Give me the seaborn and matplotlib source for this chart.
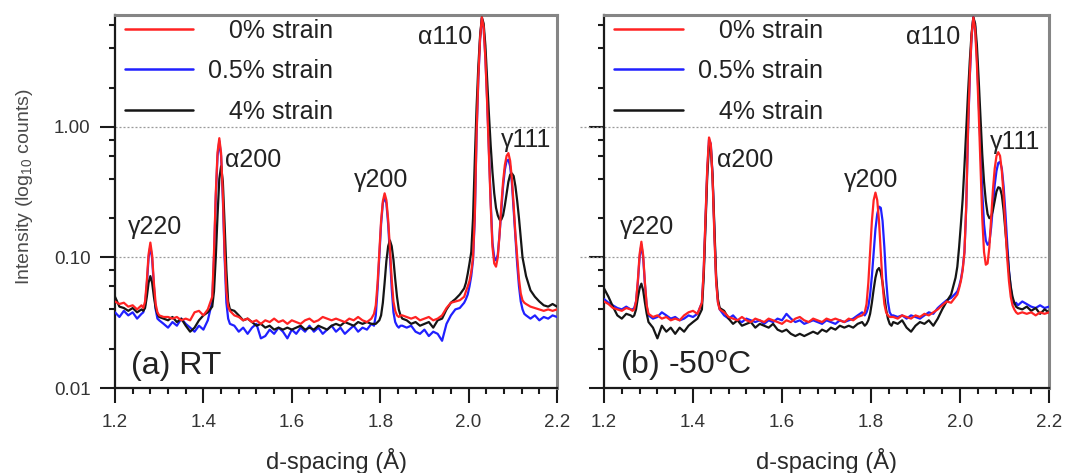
import numpy as np
import pandas as pd
import matplotlib
matplotlib.use("Agg")
import matplotlib.pyplot as plt
from matplotlib.lines import Line2D
from matplotlib.ticker import FixedLocator, MultipleLocator, FuncFormatter, NullFormatter, LogLocator
import seaborn as sns

# d-spacing sample positions (Å), shared by every diffraction pattern
D_SPACING = [
    1.200, 1.210, 1.220, 1.230, 1.240, 1.250, 1.260,
    1.264, 1.268, 1.272, 1.276, 1.280, 1.284, 1.288, 1.292, 1.296,
    1.300, 1.310, 1.320, 1.330, 1.340, 1.350, 1.360, 1.370, 1.380, 1.390, 1.400, 1.410,
    1.420, 1.424, 1.428, 1.432, 1.436, 1.440, 1.444, 1.448, 1.452, 1.456, 1.460,
    1.470, 1.480, 1.490, 1.500, 1.510, 1.520, 1.530, 1.540, 1.550, 1.560, 1.570, 1.580,
    1.590, 1.600, 1.610, 1.620, 1.630, 1.640, 1.650, 1.660, 1.670, 1.680, 1.690, 1.700,
    1.710, 1.720, 1.730, 1.740, 1.750, 1.760, 1.770, 1.780,
    1.786, 1.790, 1.794, 1.798, 1.802, 1.806, 1.810, 1.814, 1.818, 1.822, 1.826, 1.830,
    1.834, 1.838, 1.842, 1.846,
    1.850, 1.860, 1.870, 1.880, 1.890, 1.900, 1.910, 1.920, 1.930, 1.940, 1.950, 1.960,
    1.970, 1.980, 1.990,
    1.994, 1.998, 2.002, 2.006, 2.010, 2.014, 2.018, 2.022, 2.026, 2.030, 2.034, 2.038,
    2.042, 2.046, 2.050, 2.054, 2.058, 2.062, 2.066, 2.070, 2.074, 2.078, 2.082, 2.086,
    2.090, 2.094, 2.098, 2.102, 2.106, 2.110, 2.114, 2.118, 2.122, 2.126, 2.130,
    2.140, 2.150, 2.160, 2.170, 2.180, 2.190, 2.200,
]

# Room temperature, intensity (counts) for 0 %, 0.5 % and 4 % strain
RT_STRAIN_0 = [
    0.046, 0.044, 0.045, 0.042, 0.043, 0.040, 0.043,
    0.041, 0.046, 0.066, 0.106, 0.130, 0.104, 0.064, 0.044, 0.038,
    0.036, 0.035, 0.035, 0.034, 0.035, 0.033, 0.034, 0.033, 0.038, 0.039, 0.036, 0.040,
    0.050, 0.11, 0.31, 0.64, 0.82, 0.63, 0.30, 0.11, 0.055, 0.042, 0.039,
    0.036, 0.035, 0.033, 0.034, 0.032, 0.033, 0.031, 0.033, 0.032, 0.034, 0.032, 0.033,
    0.031, 0.033, 0.032, 0.031, 0.033, 0.034, 0.032, 0.033, 0.035, 0.034, 0.033, 0.034,
    0.033, 0.032, 0.034, 0.033, 0.035, 0.033, 0.032, 0.034,
    0.037, 0.043, 0.063, 0.11, 0.19, 0.27, 0.31, 0.275, 0.195, 0.118, 0.068, 0.046,
    0.039, 0.036, 0.035, 0.036,
    0.036, 0.035, 0.034, 0.035, 0.033, 0.034, 0.035, 0.033, 0.034, 0.036, 0.041, 0.045,
    0.046, 0.047, 0.050,
    0.055, 0.060, 0.066, 0.078, 0.10, 0.21, 0.9, 2.4, 4.8, 6.9, 5.8, 3.3,
    1.5, 0.62, 0.25, 0.12, 0.09, 0.085, 0.10, 0.15, 0.25, 0.38, 0.51, 0.60,
    0.63, 0.55, 0.40, 0.25, 0.15, 0.10, 0.068, 0.053, 0.047, 0.045, 0.044,
    0.042, 0.041, 0.040, 0.039, 0.040, 0.039, 0.040,
]
RT_STRAIN_05 = [
    0.038, 0.035, 0.039, 0.036, 0.038, 0.034, 0.037,
    0.038, 0.043, 0.062, 0.100, 0.122, 0.098, 0.060, 0.040, 0.034,
    0.033, 0.031, 0.029, 0.032, 0.030, 0.034, 0.031, 0.029, 0.027, 0.030, 0.028, 0.033,
    0.046, 0.10, 0.29, 0.60, 0.78, 0.60, 0.28, 0.10, 0.045, 0.034, 0.031,
    0.030, 0.027, 0.029, 0.026, 0.029, 0.031, 0.024, 0.025, 0.028, 0.026, 0.029, 0.027,
    0.024, 0.028, 0.026, 0.029, 0.027, 0.030, 0.027, 0.029, 0.026, 0.028, 0.030, 0.027,
    0.029, 0.026, 0.028, 0.030, 0.027, 0.029, 0.028, 0.031,
    0.030, 0.036, 0.057, 0.10, 0.18, 0.26, 0.29, 0.26, 0.18, 0.105, 0.058, 0.038,
    0.032, 0.030, 0.029, 0.030,
    0.030, 0.029, 0.030, 0.027, 0.026, 0.028, 0.025, 0.027, 0.026, 0.023, 0.031, 0.036,
    0.040, 0.041, 0.045,
    0.048, 0.052, 0.060, 0.072, 0.095, 0.20, 0.85, 2.3, 4.7, 6.8, 5.8, 3.4,
    1.6, 0.65, 0.27, 0.13, 0.10, 0.095, 0.105, 0.15, 0.23, 0.35, 0.47, 0.55,
    0.56, 0.50, 0.37, 0.23, 0.14, 0.088, 0.060, 0.046, 0.040, 0.037, 0.036,
    0.034, 0.036, 0.033, 0.035, 0.034, 0.036, 0.035,
]
RT_STRAIN_4 = [
    0.050, 0.042, 0.041, 0.039, 0.041, 0.038, 0.040,
    0.039, 0.041, 0.050, 0.064, 0.072, 0.064, 0.050, 0.041, 0.037,
    0.035, 0.034, 0.033, 0.035, 0.032, 0.034, 0.030, 0.027, 0.029, 0.033, 0.036, 0.038,
    0.042, 0.055, 0.10, 0.21, 0.40, 0.50, 0.38, 0.18, 0.080, 0.046, 0.040,
    0.039, 0.036, 0.033, 0.034, 0.032, 0.030, 0.031, 0.029, 0.030, 0.028, 0.029, 0.028,
    0.029, 0.028, 0.029, 0.030, 0.028, 0.029, 0.028, 0.030, 0.029, 0.028, 0.030, 0.031,
    0.030, 0.032, 0.031, 0.030, 0.032, 0.031, 0.032, 0.031,
    0.031, 0.031, 0.032, 0.033, 0.036, 0.045, 0.064, 0.094, 0.122, 0.135, 0.122, 0.096,
    0.068, 0.050, 0.040, 0.036,
    0.034, 0.033, 0.031, 0.032, 0.030, 0.031, 0.032, 0.029, 0.033, 0.034, 0.040, 0.045,
    0.048, 0.052, 0.058,
    0.064, 0.075, 0.090, 0.11, 0.20, 0.55, 1.4, 2.9, 5.0, 6.9, 6.2, 4.2,
    2.3, 1.25, 0.72, 0.45, 0.31, 0.24, 0.21, 0.195, 0.195, 0.21, 0.25, 0.31,
    0.38, 0.43, 0.44, 0.42, 0.35, 0.27, 0.20, 0.14, 0.10, 0.085, 0.072,
    0.056, 0.050, 0.046, 0.043, 0.042, 0.044, 0.042,
]

# -50 °C, intensity (counts) for 0 %, 0.5 % and 4 % strain
COLD_STRAIN_0 = [
    0.046, 0.044, 0.041, 0.040, 0.039, 0.041, 0.040,
    0.039, 0.040, 0.046, 0.066, 0.106, 0.132, 0.104, 0.064, 0.043,
    0.037, 0.035, 0.036, 0.034, 0.035, 0.033, 0.034, 0.033, 0.036, 0.038, 0.039, 0.037,
    0.045, 0.080, 0.20, 0.48, 0.83, 0.74, 0.40, 0.15, 0.065, 0.045, 0.040,
    0.038, 0.035, 0.034, 0.033, 0.035, 0.033, 0.032, 0.034, 0.033, 0.032, 0.034, 0.033,
    0.032, 0.031, 0.033, 0.032, 0.034, 0.035, 0.033, 0.032, 0.034, 0.033, 0.032, 0.034,
    0.033, 0.034, 0.033, 0.032, 0.034, 0.033, 0.035, 0.036,
    0.038, 0.044, 0.064, 0.11, 0.19, 0.275, 0.314, 0.275, 0.19, 0.11, 0.062, 0.044,
    0.038, 0.036, 0.035, 0.035,
    0.035, 0.034, 0.036, 0.035, 0.034, 0.036, 0.035, 0.037, 0.036, 0.038, 0.040, 0.043,
    0.046, 0.045, 0.050,
    0.052, 0.058, 0.066, 0.080, 0.11, 0.25, 0.95, 2.5, 5.0, 6.9, 5.6, 3.0,
    1.3, 0.50, 0.20, 0.11, 0.088, 0.090, 0.12, 0.20, 0.33, 0.48, 0.60, 0.64,
    0.60, 0.46, 0.30, 0.17, 0.10, 0.066, 0.050, 0.043, 0.040, 0.038, 0.037,
    0.038, 0.037, 0.038, 0.036, 0.038, 0.037, 0.038,
]
COLD_STRAIN_05 = [
    0.048, 0.045, 0.043, 0.041, 0.040, 0.042, 0.040,
    0.040, 0.041, 0.046, 0.064, 0.10, 0.125, 0.10, 0.062, 0.042,
    0.036, 0.034, 0.035, 0.038, 0.036, 0.034, 0.035, 0.033, 0.034, 0.036, 0.035, 0.037,
    0.045, 0.078, 0.19, 0.46, 0.80, 0.74, 0.42, 0.16, 0.068, 0.046, 0.040,
    0.036, 0.034, 0.036, 0.033, 0.032, 0.034, 0.033, 0.032, 0.033, 0.031, 0.033, 0.032,
    0.034, 0.033, 0.037, 0.034, 0.032, 0.033, 0.031, 0.032, 0.033, 0.032, 0.031, 0.033,
    0.032, 0.031, 0.033, 0.032, 0.033, 0.034, 0.036, 0.038,
    0.036, 0.038, 0.042, 0.052, 0.072, 0.11, 0.165, 0.215, 0.245, 0.240, 0.19, 0.12,
    0.068, 0.046, 0.038, 0.036,
    0.036, 0.035, 0.036, 0.034, 0.036, 0.035, 0.034, 0.036, 0.038, 0.037, 0.041, 0.044,
    0.047, 0.049, 0.053,
    0.055, 0.060, 0.068, 0.082, 0.11, 0.24, 0.90, 2.4, 4.9, 6.9, 5.9, 3.4,
    1.6, 0.70, 0.32, 0.18, 0.135, 0.125, 0.13, 0.17, 0.25, 0.36, 0.46, 0.53,
    0.54, 0.48, 0.35, 0.22, 0.13, 0.080, 0.058, 0.048, 0.044, 0.045, 0.043,
    0.046, 0.044, 0.042, 0.041, 0.043, 0.041, 0.042,
]
COLD_STRAIN_4 = [
    0.058, 0.050, 0.042, 0.036, 0.034, 0.037, 0.036,
    0.035, 0.036, 0.040, 0.049, 0.058, 0.063, 0.056, 0.045, 0.037,
    0.032, 0.029, 0.024, 0.030, 0.027, 0.029, 0.026, 0.029, 0.027, 0.030, 0.032, 0.034,
    0.040, 0.070, 0.17, 0.42, 0.72, 0.70, 0.42, 0.17, 0.072, 0.048, 0.041,
    0.039, 0.034, 0.031, 0.033, 0.030, 0.031, 0.032, 0.029, 0.031, 0.030, 0.029, 0.031,
    0.028, 0.027, 0.028, 0.026, 0.025, 0.026, 0.025, 0.026, 0.027, 0.026, 0.028, 0.027,
    0.029, 0.028, 0.030, 0.029, 0.030, 0.029, 0.031, 0.032,
    0.030, 0.031, 0.033, 0.037, 0.045, 0.057, 0.070, 0.080, 0.083, 0.077, 0.064, 0.050,
    0.040, 0.034, 0.031, 0.030,
    0.032, 0.031, 0.033, 0.029, 0.027, 0.030, 0.032, 0.031, 0.033, 0.030, 0.034, 0.040,
    0.046, 0.052, 0.070,
    0.085, 0.12, 0.18, 0.28, 0.50, 0.95, 1.8, 3.2, 5.2, 6.9, 6.2, 4.2,
    2.3, 1.2, 0.62, 0.38, 0.27, 0.215, 0.20, 0.205, 0.23, 0.27, 0.32, 0.345,
    0.34, 0.30, 0.23, 0.16, 0.11, 0.078, 0.060, 0.050, 0.045, 0.042, 0.041,
    0.040, 0.042, 0.039, 0.041, 0.037, 0.040, 0.038,
]

STRAINS = ["0% strain", "0.5% strain", "4% strain"]
PANELS = ["RT", "-50C"]
PANEL_TAGS = ["(a) RT", "(b) -50$^{\\rm o}$C"]
Y_TICKS = [0.01, 0.1, 1.0]
X_TICKS = [1.2, 1.4, 1.6, 1.8, 2.0, 2.2]

# peak labels: (text, d-spacing, intensity, horizontal alignment) per panel
PEAK_LABELS = {
    "RT": [("γ220", 1.290, 0.172, "center"), ("α200", 1.448, 0.56, "left"),
           ("γ200", 1.803, 0.39, "center"), ("α110", 2.008, 4.9, "right"),
           ("γ111", 2.073, 0.80, "left")],
    "-50C": [("γ220", 1.296, 0.172, "center"), ("α200", 1.453, 0.56, "left"),
             ("γ200", 1.800, 0.39, "center"), ("α110", 2.001, 4.9, "right"),
             ("γ111", 2.067, 0.77, "left")],
}

series = {
    ("RT", "0% strain"): RT_STRAIN_0,
    ("RT", "0.5% strain"): RT_STRAIN_05,
    ("RT", "4% strain"): RT_STRAIN_4,
    ("-50C", "0% strain"): COLD_STRAIN_0,
    ("-50C", "0.5% strain"): COLD_STRAIN_05,
    ("-50C", "4% strain"): COLD_STRAIN_4,
}
frames = []
for (panel, strain), values in series.items():
    assert len(values) == len(D_SPACING), (panel, strain, len(values))
    frames.append(pd.DataFrame({"panel": panel, "strain": strain,
                                "d": D_SPACING, "intensity": values}))
df = pd.concat(frames, ignore_index=True)

COLORS = {"0% strain": "#ff2323", "0.5% strain": "#2020ff", "4% strain": "#151515"}
DRAW_ORDER = ["0.5% strain", "4% strain", "0% strain"]

sns.set_theme(style="ticks")
plt.rcParams["font.family"] = ["Liberation Sans", "DejaVu Sans"]
plt.rcParams["mathtext.fontset"] = "custom"
plt.rcParams["mathtext.rm"] = "Liberation Sans"
plt.rcParams["mathtext.it"] = "Liberation Sans:italic"
plt.rcParams["mathtext.bf"] = "Liberation Sans:bold"

W, H = 1066, 473
fig = plt.figure(figsize=(W / 100, H / 100), dpi=100)
ax_rt = fig.add_axes([115 / W, 85 / H, 442 / W, 373 / H])
ax_cold = fig.add_axes([604 / W, 85 / H, 445 / W, 373 / H])

TEXT = "#222222"
legend_text = {"0% strain": "\u2007\u2008" + "0% strain",
               "0.5% strain": "0.5% strain",
               "4% strain": "\u2007\u2008" + "4% strain"}

for idx, (ax, panel) in enumerate(zip([ax_rt, ax_cold], PANELS)):
    sub = df[df["panel"] == panel]
    for strain in DRAW_ORDER:
        sns.lineplot(data=sub[sub["strain"] == strain], x="d", y="intensity",
                     color=COLORS[strain], linewidth=1.6, estimator=None,
                     sort=False, ax=ax, legend=False, zorder=3)
    ax.set_yscale("log")
    ax.set_xlim(1.2, 2.2)
    ax.set_ylim(0.01, 7.2)

    # dotted reference lines at the decades
    x0 = 0.0 if idx == 0 else -0.055
    for v in Y_TICKS[1:]:
        ax.plot([x0, 1.0], [v, v], transform=ax.get_yaxis_transform(),
                color="#9a9a9a", linewidth=0.9, linestyle=(0, (1.6, 1.6)),
                clip_on=False, zorder=1)

    ax.xaxis.set_major_locator(FixedLocator(X_TICKS))
    ax.xaxis.set_minor_locator(MultipleLocator(0.04))
    ax.xaxis.set_major_formatter(FuncFormatter(lambda v, p: f"{v:.1f}"))
    ax.yaxis.set_major_locator(FixedLocator(Y_TICKS))
    ax.yaxis.set_minor_locator(LogLocator(base=10, subs=(2, 4, 6, 8)))
    ax.yaxis.set_major_formatter(FuncFormatter(lambda v, p: f"{v:.2f}"))
    ax.yaxis.set_minor_formatter(NullFormatter())
    ax.xaxis.set_ticks_position("bottom")
    ax.yaxis.set_ticks_position("left")
    ax.tick_params(which="major", direction="out", length=10.5, width=1.5,
                   color="#1a1a1a", labelsize=13.5, labelcolor="#333333")
    ax.tick_params(which="minor", direction="out", length=4.5, width=1.5,
                   color="#1a1a1a")
    ax.tick_params(axis="x", which="major", pad=8)
    ax.tick_params(axis="y", which="major", pad=7)
    if idx == 1:
        ax.tick_params(axis="y", labelleft=False)

    for side in ("left", "bottom"):
        ax.spines[side].set_color("#1a1a1a")
        ax.spines[side].set_linewidth(1.6)
    for side in ("top", "right"):
        ax.spines[side].set_color("#858585")
        ax.spines[side].set_linewidth(2.2)

    ax.set_xlabel("d-spacing (Å)", fontsize=17, color="#2a2a2a")
    ax.xaxis.set_label_coords(0.5, -0.16)
    if idx == 0:
        ax.set_ylabel("Intensity (log$_{10}$ counts)", fontsize=14, color="#4a4a4a")
        ax.yaxis.set_label_coords(-0.181, 0.539)
    else:
        ax.set_ylabel("")

    for name, d, inten, ha in PEAK_LABELS[panel]:
        ax.text(d, inten, name, fontsize=18, color=TEXT, ha=ha, va="center", zorder=4)
    ax.text(0.037, 0.06, PANEL_TAGS[idx], transform=ax.transAxes, fontsize=23,
            color=TEXT, ha="left", va="center")

    handles = [Line2D([], [], color=COLORS[s], linewidth=1.8) for s in STRAINS]
    ax.legend(handles, [legend_text[s] for s in STRAINS], loc="upper left",
              bbox_to_anchor=(0.022, 0.99), frameon=False, fontsize=18,
              handlelength=2.75, handletextpad=0.6, labelspacing=0.66,
              borderpad=0.0, borderaxespad=0.0)
    for t in ax.get_legend().get_texts():
        t.set_color(TEXT)

fig.savefig("out.png", dpi=100)
